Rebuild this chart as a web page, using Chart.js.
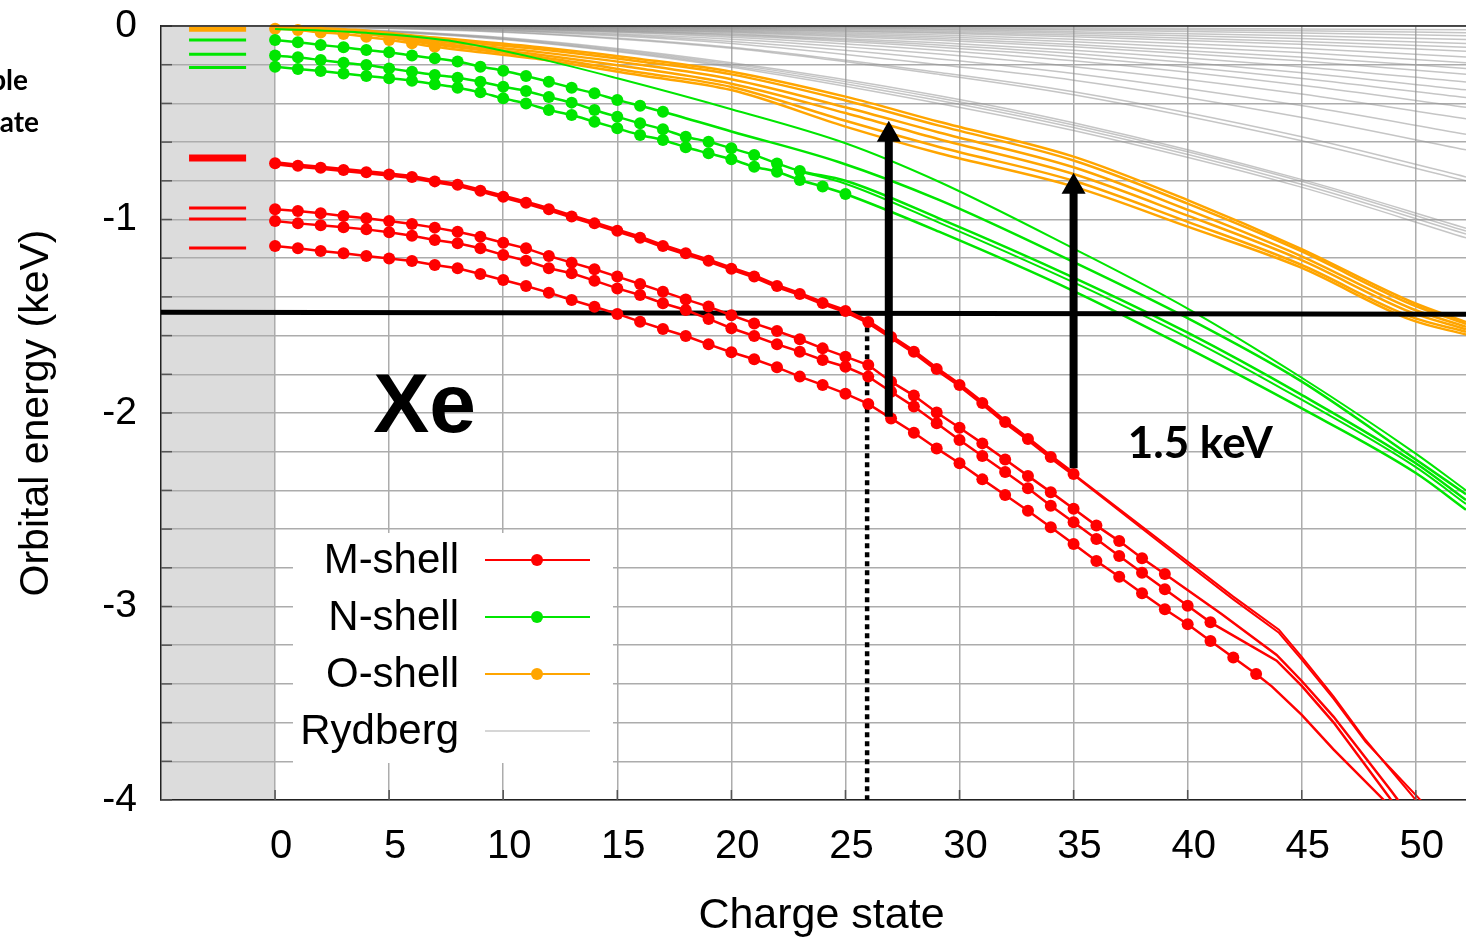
<!DOCTYPE html>
<html>
<head>
<meta charset="utf-8">
<title>Xe orbital energies vs charge state</title>
<script src="https://cdn.jsdelivr.net/npm/chart.js@4.4.1/dist/chart.umd.min.js"></script>
<style>
  html, body { margin: 0; padding: 0; background: #fff; }
  #wrap { width: 1466px; height: 939px; position: relative; }
</style>
</head>
<body>
<div id="wrap"><canvas id="chart" width="1466" height="939"></canvas></div>
<script>
// --- axes ---
const X_MIN = -5, X_MAX = 52.2;
const X_TICKS = [0, 5, 10, 15, 20, 25, 30, 35, 40, 45, 50];
const Y_TICKS = [0, -0.2, -0.4, -0.6, -0.8, -1, -1.2, -1.4, -1.6, -1.8, -2, -2.2, -2.4, -2.6, -2.8, -3, -3.2, -3.4, -3.6, -3.8, -4];
const SHADE = [-5, 0];

// --- M-shell (red), dots at charge state 0,1,2,... then plain tails [x, y] ---
const M3D_DOTS = [-0.709,-0.722,-0.733,-0.744,-0.756,-0.768,-0.78,-0.803,-0.821,-0.851,-0.882,-0.913,-0.947,-0.984,-1.02,-1.058,-1.094,-1.137,-1.175,-1.213,-1.254,-1.294,-1.344,-1.385,-1.432,-1.473,-1.53,-1.607,-1.684,-1.773,-1.855,-1.948,-2.046,-2.134,-2.227,-2.315];
const M3D_TAIL_A = [[35,-2.315],[40,-2.768],[42,-2.949],[44,-3.12],[45,-3.26],[46.4,-3.466],[47.8,-3.69],[50,-4.0],[51,-4.14]];
const M3D_TAIL_B = [[35,-2.32],[40,-2.782],[42,-2.963],[44,-3.136],[45,-3.274],[46.4,-3.478],[47.8,-3.70],[50.2,-4.0],[51.2,-4.14]];
const M3P32_DOTS = [-0.947,-0.956,-0.968,-0.982,-0.994,-1.008,-1.023,-1.042,-1.063,-1.089,-1.12,-1.149,-1.189,-1.223,-1.257,-1.295,-1.333,-1.373,-1.413,-1.45,-1.495,-1.537,-1.576,-1.619,-1.666,-1.709,-1.752,-1.838,-1.91,-1.997,-2.076,-2.157,-2.24,-2.325,-2.409,-2.495,-2.582,-2.662,-2.751,-2.832];
const M3P32_TAIL = [[39,-2.832],[41.5,-3.04],[43.9,-3.25],[45,-3.385],[46.4,-3.57],[48.9,-3.95],[49.6,-4.06]];
const M3P12_DOTS = [-1.008,-1.02,-1.03,-1.04,-1.051,-1.066,-1.084,-1.106,-1.123,-1.149,-1.183,-1.213,-1.252,-1.278,-1.316,-1.356,-1.39,-1.433,-1.468,-1.514,-1.562,-1.602,-1.645,-1.683,-1.726,-1.761,-1.812,-1.89,-1.967,-2.053,-2.14,-2.222,-2.305,-2.389,-2.479,-2.565,-2.651,-2.739,-2.825,-2.911,-2.996,-3.082];
const M3P12_TAIL = [[41,-3.082],[43.9,-3.28],[45,-3.41],[46.4,-3.6],[48.8,-3.98],[49.4,-4.08]];
const M3S_DOTS = [-1.137,-1.149,-1.163,-1.175,-1.189,-1.201,-1.214,-1.235,-1.252,-1.282,-1.313,-1.344,-1.378,-1.416,-1.451,-1.488,-1.528,-1.566,-1.602,-1.645,-1.686,-1.722,-1.764,-1.812,-1.855,-1.9,-1.953,-2.028,-2.102,-2.183,-2.26,-2.343,-2.424,-2.505,-2.59,-2.677,-2.765,-2.846,-2.932,-3.014,-3.092,-3.178,-3.263,-3.349];
const M3S_TAIL = [[43,-3.349],[43.7,-3.414],[45,-3.56],[46.4,-3.74],[48.6,-4.0],[49.4,-4.1]];

// --- N-shell (green) ---
const N4D_DOTS = [-0.072,-0.084,-0.098,-0.11,-0.124,-0.136,-0.153,-0.167,-0.184,-0.21,-0.231,-0.258,-0.288,-0.319,-0.348,-0.382,-0.412,-0.443];
const N4D_TAIL = [[17,-0.443],[20,-0.545],[24.7,-0.703],[29.1,-0.899],[35,-1.22],[40,-1.51],[44.9,-1.83],[50,-2.24],[52.2,-2.42]];
const N4P_DOTS = [-0.153,-0.162,-0.176,-0.19,-0.202,-0.219,-0.236,-0.253,-0.267,-0.288,-0.314,-0.336,-0.367,-0.396,-0.434,-0.469,-0.503,-0.534,-0.572,-0.598,-0.632,-0.667,-0.71,-0.749];
const N4P_TAIL_A = [[23,-0.749],[25,-0.80],[29.1,-0.994],[35,-1.30],[40,-1.585],[44.9,-1.9],[50,-2.26],[52.2,-2.45]];
const N4P_TAIL_B = [[23,-0.752],[25,-0.815],[29.1,-1.016],[35,-1.325],[40,-1.61],[44.9,-1.925],[50,-2.28],[52.2,-2.47]];
const N4S_DOTS = [-0.21,-0.222,-0.233,-0.245,-0.258,-0.27,-0.283,-0.301,-0.319,-0.343,-0.374,-0.4,-0.434,-0.46,-0.495,-0.529,-0.563,-0.589,-0.627,-0.658,-0.689,-0.727,-0.753,-0.796,-0.83,-0.868];
const N4S_TAIL = [[25,-0.868],[29.1,-1.063],[35,-1.37],[40,-1.665],[44.9,-1.97],[50,-2.31],[52.2,-2.5]];
const N4F = [[0,-0.015],[4,-0.035],[7.6,-0.075],[11.6,-0.17],[15,-0.27],[20,-0.43],[25,-0.606],[29.1,-0.805],[35,-1.15],[40,-1.46],[44.9,-1.81],[50,-2.21],[52.2,-2.4]];

// --- O-shell (orange) ---
const ORANGE_X = [0, 3.5, 7, 11.6, 16, 20, 25, 29.1, 35, 40, 44.9, 49.8, 52.2];
const O_LINE_1 = [-0.004,-0.02,-0.06,-0.11,-0.17,-0.236,-0.365,-0.495,-0.675,-0.9,-1.148,-1.425,-1.53];
const O_LINE_2 = [-0.006,-0.024,-0.068,-0.12,-0.183,-0.25,-0.385,-0.515,-0.695,-0.918,-1.16,-1.438,-1.54];
const O_LINE_3 = [-0.008,-0.027,-0.078,-0.135,-0.2,-0.275,-0.42,-0.55,-0.73,-0.95,-1.185,-1.46,-1.555];
const O_LINE_4 = [-0.01,-0.03,-0.088,-0.148,-0.22,-0.298,-0.45,-0.585,-0.765,-0.98,-1.205,-1.48,-1.567];
const O_LINE_5 = [-0.012,-0.033,-0.096,-0.16,-0.24,-0.315,-0.49,-0.625,-0.8,-1.012,-1.23,-1.503,-1.58];
const O_DOTS = [-0.014,-0.021,-0.033,-0.041,-0.055,-0.072,-0.089,-0.107];
const O_DOTS_TAIL = [[7,-0.107],[11.6,-0.172],[16,-0.255],[20,-0.331],[25,-0.52],[29.1,-0.658],[35,-0.83],[40,-1.037],[44.9,-1.245],[49.8,-1.519],[52.2,-1.595]];

// --- Rydberg (gray) ---
const RYD_X = [0, 10, 20, 29.1, 35, 44.9, 52.2];
const RYD_LINES = [
  [0,-0.06,-0.19,-0.36,-0.5,-0.79,-1.045],
  [0,-0.063,-0.197,-0.372,-0.512,-0.8,-1.06],
  [0,-0.067,-0.205,-0.385,-0.525,-0.815,-1.075],
  [0,-0.07,-0.213,-0.4,-0.54,-0.83,-1.095],
  [0,-0.03,-0.11,-0.24,-0.34,-0.57,-0.78],
  [0,-0.032,-0.115,-0.25,-0.355,-0.59,-0.8],
  [0,-0.025,-0.09,-0.2,-0.28,-0.47,-0.64],
  [0,-0.022,-0.08,-0.17,-0.245,-0.41,-0.56],
  [0,-0.019,-0.068,-0.145,-0.21,-0.35,-0.48],
  [0,-0.016,-0.058,-0.125,-0.18,-0.305,-0.42],
  [0,-0.014,-0.051,-0.11,-0.16,-0.27,-0.37],
  [0,-0.012,-0.045,-0.098,-0.142,-0.24,-0.33],
  [0,-0.011,-0.04,-0.086,-0.125,-0.21,-0.29],
  [0,-0.009,-0.034,-0.074,-0.107,-0.18,-0.25],
  [0,-0.008,-0.03,-0.065,-0.095,-0.16,-0.22],
  [0,-0.007,-0.026,-0.056,-0.081,-0.137,-0.19],
  [0,-0.006,-0.022,-0.047,-0.068,-0.115,-0.16],
  [0,-0.005,-0.018,-0.038,-0.055,-0.094,-0.13],
  [0,-0.004,-0.015,-0.032,-0.047,-0.08,-0.11],
  [0,-0.003,-0.012,-0.026,-0.038,-0.065,-0.09],
  [0,-0.003,-0.01,-0.02,-0.03,-0.05,-0.07],
  [0,-0.002,-0.007,-0.015,-0.021,-0.036,-0.05],
  [0,-0.001,-0.005,-0.01,-0.015,-0.025,-0.035],
  [0,-0.001,-0.003,-0.006,-0.009,-0.015,-0.02],
];

// --- neutral-atom levels drawn in the shaded strip ---
const STUB_X = [-3.77, -1.27];
const STUB_RED = [-0.682, -0.94, -0.997, -1.147];
const STUB_GREEN = [-0.072, -0.146, -0.214];
const STUB_ORANGE = [-0.017];

// --- annotations ---
const HLINE = [[-5,-1.479],[52.2,-1.49]];
const DOTTED = [[25.95,-1.51],[25.95,-4.0]];
const ARROW_X = [26.9, 35];
const ARROW_FROM = [-2.02, -2.285];
const ARROW_TO = [-0.49, -0.758];

const LEGEND_LABELS = ['M-shell', 'N-shell', 'O-shell', 'Rydberg'];

const RED = '#ff0000', GREEN = '#00e600', ORANGE = '#ffa500', GRAY = 'rgba(150,150,150,0.55)';
const DOT_R = 6;
const SMOOTH = { cubicInterpolationMode: 'monotone' };

// --- dataset helpers ---
const xy = arr => arr.map(([x, y]) => ({ x, y }));
const dotsXY = arr => arr.map((y, i) => ({ x: i, y }));

function base(data, color, width, extra) {
  return Object.assign({
    data, borderColor: color, backgroundColor: color, borderWidth: width,
    pointRadius: 0, pointBorderWidth: 0, pointHoverRadius: 0, tension: 0, fill: false,
    clip: { left: 0, top: 8, right: 0, bottom: 0 },
  }, extra || {});
}
function dotted(dots, tail, color, width, extra) {
  const n = dots.length;
  const data = dotsXY(dots).concat(xy((tail || []).slice(1)));
  return base(data, color, width, Object.assign({ pointRadius: c => (c.dataIndex < n ? DOT_R : 0) }, extra || {}));
}
const plain = (pts, color, width, extra) => base(xy(pts), color, width, extra);
const stub = (y, color, width) => plain([[STUB_X[0], y], [STUB_X[1], y]], color, width, { borderCapStyle: 'butt' });

const datasets = [
  // red on top
  dotted(M3D_DOTS, null, RED, 4.5),
  plain(M3D_TAIL_A, RED, 2),
  plain(M3D_TAIL_B, RED, 2),
  dotted(M3P32_DOTS, M3P32_TAIL, RED, 2.5),
  dotted(M3P12_DOTS, M3P12_TAIL, RED, 2.5),
  dotted(M3S_DOTS, M3S_TAIL, RED, 2.5),
  stub(STUB_RED[0], RED, 7), stub(STUB_RED[1], RED, 3), stub(STUB_RED[2], RED, 3), stub(STUB_RED[3], RED, 3),
  // black guide lines
  plain(HLINE, '#000', 5, { borderCapStyle: 'butt' }),
  plain(DOTTED, '#000', 4.5, { borderDash: [5, 4], borderCapStyle: 'butt' }),
  // green
  dotted(N4D_DOTS, N4D_TAIL, GREEN, 2.5, SMOOTH),
  dotted(N4P_DOTS, N4P_TAIL_A, GREEN, 2.5, SMOOTH),
  plain(N4P_TAIL_B, GREEN, 2, SMOOTH),
  dotted(N4S_DOTS, N4S_TAIL, GREEN, 2.5, SMOOTH),
  plain(N4F, GREEN, 2, SMOOTH),
  stub(STUB_GREEN[0], GREEN, 3), stub(STUB_GREEN[1], GREEN, 3), stub(STUB_GREEN[2], GREEN, 3),
  // orange
  dotted(O_DOTS, O_DOTS_TAIL, ORANGE, 2.5, SMOOTH),
  ...[O_LINE_1, O_LINE_2, O_LINE_3, O_LINE_4, O_LINE_5].map(l => plain(ORANGE_X.map((x, i) => [x, l[i]]), ORANGE, 2.5, SMOOTH)),
  stub(STUB_ORANGE[0], ORANGE, 5),
  // gray Rydberg fan at the back
  ...RYD_LINES.map(l => plain(RYD_X.map((x, i) => [x, l[i]]), GRAY, 1.5, SMOOTH)),
];

const FONT = '"Liberation Sans", Arial, sans-serif';
Chart.defaults.font.family = FONT;
Chart.defaults.color = '#000';

const decor = {
  id: 'decor',
  beforeDraw(chart) {
    const { ctx, chartArea: a, scales: { x } } = chart;
    const x0 = x.getPixelForValue(SHADE[0]), x1 = x.getPixelForValue(SHADE[1]);
    ctx.save();
    ctx.fillStyle = '#dcdcdc';
    ctx.fillRect(x0, a.top, x1 - x0, a.bottom - a.top);
    ctx.restore();
  },
  afterDatasetsDraw(chart) {
    const { ctx, chartArea: a, scales: { x, y } } = chart;
    ctx.save();

    // inner tick marks + top frame
    ctx.strokeStyle = '#555';
    ctx.lineWidth = 1.5;
    Y_TICKS.forEach(v => {
      const py = y.getPixelForValue(v);
      ctx.beginPath(); ctx.moveTo(a.left, py); ctx.lineTo(a.left + 11, py); ctx.stroke();
    });
    X_TICKS.forEach(v => {
      const px = x.getPixelForValue(v);
      ctx.beginPath(); ctx.moveTo(px, a.bottom); ctx.lineTo(px, a.bottom - 10); ctx.stroke();
    });
    ctx.strokeStyle = '#222';
    ctx.beginPath(); ctx.moveTo(a.left, a.top); ctx.lineTo(a.right, a.top); ctx.stroke();

    // arrows
    ctx.fillStyle = '#000';
    ctx.strokeStyle = '#000';
    ARROW_X.forEach((xv, i) => {
      const px = x.getPixelForValue(xv);
      const pFrom = y.getPixelForValue(ARROW_FROM[i]);
      const pTo = y.getPixelForValue(ARROW_TO[i]);
      const headH = 21, headW = 12;
      ctx.lineWidth = 8;
      ctx.beginPath(); ctx.moveTo(px, pFrom); ctx.lineTo(px, pTo + headH - 1); ctx.stroke();
      ctx.beginPath();
      ctx.moveTo(px, pTo);
      ctx.lineTo(px - headW, pTo + headH);
      ctx.lineTo(px + headW, pTo + headH);
      ctx.closePath(); ctx.fill();
    });

    // legend
    const lx = a.left + 132, ly = a.top + 507;
    ctx.fillStyle = '#fff';
    ctx.fillRect(lx, ly, 320, 230);
    const rowY = [534, 591, 648, 705];
    const colors = [RED, GREEN, ORANGE, '#c8c8c8'];
    ctx.font = '42px ' + FONT;
    ctx.textAlign = 'right';
    ctx.textBaseline = 'middle';
    LEGEND_LABELS.forEach((lab, i) => {
      const ry = a.top + rowY[i];
      ctx.fillStyle = '#000';
      ctx.fillText(lab, a.left + 298, ry + 1);
      ctx.strokeStyle = colors[i];
      ctx.lineWidth = i === 3 ? 1.5 : 2;
      ctx.beginPath(); ctx.moveTo(a.left + 324, ry); ctx.lineTo(a.left + 429, ry); ctx.stroke();
      if (i < 3) {
        ctx.fillStyle = colors[i];
        ctx.beginPath(); ctx.arc(a.left + 376, ry, DOT_R, 0, Math.PI * 2); ctx.fill();
      }
    });

    // big labels
    ctx.fillStyle = '#000';
    ctx.textAlign = 'left';
    ctx.textBaseline = 'alphabetic';
    ctx.font = 'bold 84px ' + FONT;
    ctx.fillText('Xe', x.getPixelForValue(4.3), y.getPixelForValue(-2.098));
    ctx.font = 'bold 44px Lato, "Open Sans", sans-serif';
    ctx.fillText('1.5 keV', x.getPixelForValue(37.37), y.getPixelForValue(-2.234));

    // axis titles
    ctx.textAlign = 'center';
    ctx.textBaseline = 'middle';
    ctx.font = '43px ' + FONT;
    ctx.fillText('Charge state', x.getPixelForValue(23.95), a.bottom + 116);
    ctx.font = '41px ' + FONT;
    ctx.save();
    ctx.translate(a.left - 124, y.getPixelForValue(-2));
    ctx.rotate(-Math.PI / 2);
    ctx.fillText('Orbital energy (keV)', 0, 0);
    ctx.restore();

    // text cut off at the left edge
    ctx.font = 'bold 28px Lato, "Open Sans", sans-serif';
    ctx.textAlign = 'right';
    ctx.textBaseline = 'alphabetic';
    ctx.fillText('ble', 28, 90);
    ctx.fillText('ate', 39, 132);

    ctx.restore();
  },
};

new Chart(document.getElementById('chart'), {
  type: 'line',
  data: { datasets },
  options: {
    responsive: false,
    animation: false,
    devicePixelRatio: 1,
    layout: { autoPadding: false, padding: { top: 26, right: 0, left: 0, bottom: 0 } },
    plugins: { legend: { display: false }, tooltip: { enabled: false }, title: { display: false } },
    events: [],
    scales: {
      x: {
        type: 'linear', min: X_MIN, max: X_MAX,
        afterBuildTicks: s => { s.ticks = X_TICKS.map(v => ({ value: v })); },
        afterFit: s => { s.height = 139; s.paddingLeft = 0; s.paddingRight = 0; },
        grid: { color: '#acacac', lineWidth: 1.5, drawTicks: false },
        border: { display: true, color: '#222', width: 1.5 },
        ticks: { font: { size: 40 }, padding: 23, labelOffset: 6, maxRotation: 0, autoSkip: false, color: '#000' },
      },
      y: {
        type: 'linear', min: -4, max: 0,
        afterBuildTicks: s => { s.ticks = Y_TICKS.map(v => ({ value: v })); },
        afterFit: s => { s.width = 161; s.paddingTop = 0; s.paddingBottom = 0; },
        grid: { color: '#acacac', lineWidth: 1.5, drawTicks: false },
        border: { display: true, color: '#222', width: 1.5 },
        ticks: {
          font: { size: 39 }, padding: 24, autoSkip: false, color: '#000',
          callback: v => (Math.abs(v - Math.round(v)) < 1e-6 ? String(Math.round(v)) : ''),
        },
      },
    },
  },
  plugins: [decor],
});
</script>
</body>
</html>
